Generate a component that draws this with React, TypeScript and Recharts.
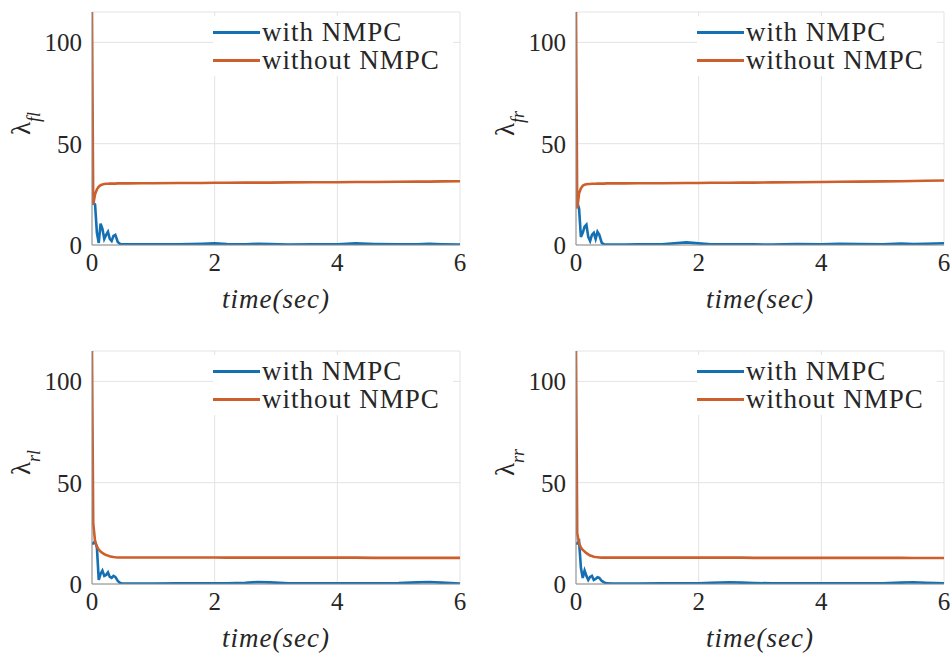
import { LineChart, Line, XAxis, YAxis, CartesianGrid, Legend, Label } from 'recharts';

const SERIF = 'Liberation Serif';
const BLUE = '#1470B3';
const ORANGE = '#CC5F2C';

// time samples (sec), shared by all four panels
const TIME = [0, 0.02, 0.05, 0.08, 0.11, 0.14, 0.17, 0.2, 0.23, 0.26, 0.29, 0.32, 0.35, 0.38, 0.42, 0.46, 0.5, 0.6, 0.8, 1.0,
  1.4, 1.8, 2.0, 2.2, 2.5, 2.7, 2.9, 3.2, 3.6, 4.0, 4.3, 4.6, 5.0, 5.3, 5.5, 5.7, 6.0];

// front left
const FL_WITH = [20, 21, 20, 6, 1, 10.5, 8, 3, 5, 6.5, 3, 2, 4.5, 5, 1.5, 0.5, 0.3, 0.3, 0.3, 0.3,
  0.3, 0.6, 0.8, 0.5, 0.3, 0.6, 0.5, 0.2, 0.3, 0.4, 0.8, 0.5, 0.3, 0.4, 0.6, 0.4, 0.2];
const FL_WITHOUT = [115, 20, 25, 27.5, 28.8, 29.5, 29.9, 30.1, 30.2, 30.2, 30.3, 30.3, 30.3, 30.3, 30.4, 30.4, 30.4, 30.4, 30.5, 30.5,
  30.6, 30.6, 30.7, 30.7, 30.8, 30.8, 30.8, 30.9, 31.0, 31.0, 31.1, 31.1, 31.2, 31.3, 31.3, 31.4, 31.5];

// front right
const FR_WITH = [20, 21, 18, 4, 6, 9, 10, 4, 2, 5, 6, 3, 6.5, 5, 1, 0.3, 0.2, 0.2, 0.2, 0.3,
  0.4, 1.3, 0.8, 0.3, 0.3, 0.4, 0.3, 0.2, 0.5, 0.3, 0.6, 0.5, 0.3, 0.7, 0.5, 0.6, 0.9];
const FR_WITHOUT = [115, 18, 25.5, 28, 29.3, 29.8, 30, 30.1, 30.1, 30.2, 30.2, 30.2, 30.3, 30.3, 30.3, 30.3, 30.4, 30.4, 30.4, 30.5,
  30.5, 30.6, 30.6, 30.7, 30.7, 30.8, 30.8, 30.9, 31.0, 31.1, 31.2, 31.3, 31.4, 31.5, 31.6, 31.7, 31.8];

// rear left
const RL_WITH = [20, 20, 21, 18, 2, 5, 6.6, 4, 4.5, 5.7, 3.5, 3, 4, 3.5, 1.5, 0.5, 0.2, 0.2, 0.2, 0.2,
  0.3, 0.3, 0.3, 0.4, 0.6, 1.0, 0.8, 0.4, 0.3, 0.3, 0.3, 0.4, 0.5, 0.8, 1.0, 0.7, 0.2];
const RL_WITHOUT = [115, 30, 21, 18.5, 17, 16, 15.3, 14.8, 14.3, 14, 13.7, 13.5, 13.3, 13.2, 13.1, 13.1, 13.1, 13.1, 13.1, 13.1,
  13.1, 13.1, 13.1, 13.0, 13.0, 13.0, 13.0, 13.0, 13.0, 13.0, 13.0, 12.9, 12.9, 12.9, 12.9, 12.9, 12.9];

// rear right
const RR_WITH = [20, 20, 21, 8, 3, 6.6, 4, 2, 3.5, 4, 2, 2.5, 3.3, 3, 1.5, 0.8, 0.3, 0.2, 0.2, 0.2,
  0.3, 0.3, 0.4, 0.6, 0.9, 0.7, 0.5, 0.3, 0.3, 0.3, 0.4, 0.3, 0.4, 0.7, 0.9, 0.6, 0.3];
const RR_WITHOUT = [115, 25, 20, 18, 16.8, 16, 15.2, 14.6, 14.1, 13.8, 13.5, 13.3, 13.2, 13.1, 13.0, 13.0, 13.0, 13.0, 13.0, 13.0,
  13.0, 13.0, 13.0, 13.0, 13.0, 13.0, 12.9, 12.9, 12.9, 12.9, 12.9, 12.9, 12.9, 12.9, 12.8, 12.8, 12.8];

const X_TICKS = [0, 2, 4, 6];
const Y_TICKS = [0, 50, 100];
const SERIES = [
  { key: 'withNmpc', name: 'with NMPC', color: BLUE },
  { key: 'withoutNmpc', name: 'without NMPC', color: ORANGE },
];

const toRows = (withV: number[], withoutV: number[]) =>
  TIME.map((t, i) => ({ t, withNmpc: withV[i], withoutNmpc: withoutV[i] }));

function renderLegend(props: any) {
  const payload = props.payload ?? [];
  return (
    <div style={{ background: '#fff', width: 240, padding: '2px 0' }}>
      {payload.map((p: any) => (
        <div key={p.value} style={{ display: 'flex', alignItems: 'center', height: 28 }}>
          <span style={{ display: 'inline-block', width: 47, height: 3, background: p.color }} />
          <span style={{ marginLeft: 2, lineHeight: '28px', fontFamily: SERIF, fontSize: 27, letterSpacing: 1, color: '#262626' }}>
            {p.value}
          </span>
        </div>
      ))}
    </div>
  );
}

function Panel({ sub, withV, withoutV, left, top, height }: {
  sub: string; withV: number[]; withoutV: number[]; left: number; top: number; height: number;
}) {
  const data = toRows(withV, withoutV);
  return (
    <div style={{ position: 'absolute', left, top }}>
      <LineChart width={468} height={height} data={data} margin={{ top: 12, right: 8, left: 0, bottom: height - 315 }}>
        <CartesianGrid stroke="#e3e3e3" />
        <XAxis
          dataKey="t" type="number" domain={[0, 6]} ticks={X_TICKS} height={70}
          tick={{ fontSize: 25, fill: '#262626' }} fontFamily={SERIF} tickLine={false}
          axisLine={{ stroke: '#8c8c8c' }} allowDataOverflow
        >
          <Label
            position="insideBottom"
            content={(p: any) => {
              const vb = p.viewBox;
              return (
                <text x={vb.x + vb.width / 2} y={vb.y + 63} textAnchor="middle"
                  fontFamily={SERIF} fontSize={27} fontStyle="italic" letterSpacing={1} fill="#262626">
                  time(sec)
                </text>
              );
            }}
          />
        </XAxis>
        <YAxis
          type="number" domain={[0, 115]} ticks={Y_TICKS} width={92}
          tick={{ fontSize: 25, fill: '#262626' }} fontFamily={SERIF} tickLine={false} tickMargin={4}
          axisLine={{ stroke: '#8c8c8c' }} allowDataOverflow
        >
          <Label
            position="insideLeft"
            content={(p: any) => {
              const vb = p.viewBox;
              const cx = vb.x + 30;
              const cy = vb.y + vb.height / 2 - 5;
              return (
                <text x={cx} y={cy} transform={`rotate(-90 ${cx} ${cy})`} textAnchor="middle"
                  fontFamily={SERIF} fontSize={27} fill="#262626">
                  λ<tspan baselineShift="sub" fontSize={18} fontStyle="italic">{sub}</tspan>
                </text>
              );
            }}
          />
        </YAxis>
        <Legend
          layout="vertical" align="center" verticalAlign="middle"
          content={renderLegend}
          wrapperStyle={{ top: 16, left: 213, width: 242 }}
        />
        {SERIES.map((s) => (
          <Line key={s.key} type="linear" dataKey={s.key} name={s.name} stroke={s.color}
            strokeWidth={2.6} dot={false} isAnimationActive={false} />
        ))}
      </LineChart>
    </div>
  );
}

export default function App() {
  return (
    <div style={{ position: 'absolute', left: 0, top: 0, width: 951, height: 657, overflow: 'hidden', background: '#fff' }}>
      <Panel sub="fl" withV={FL_WITH} withoutV={FL_WITHOUT} left={0} top={0} height={325} />
      <Panel sub="fr" withV={FR_WITH} withoutV={FR_WITHOUT} left={484} top={0} height={325} />
      <Panel sub="rl" withV={RL_WITH} withoutV={RL_WITHOUT} left={0} top={339} height={318} />
      <Panel sub="rr" withV={RR_WITH} withoutV={RR_WITHOUT} left={484} top={339} height={318} />
    </div>
  );
}
